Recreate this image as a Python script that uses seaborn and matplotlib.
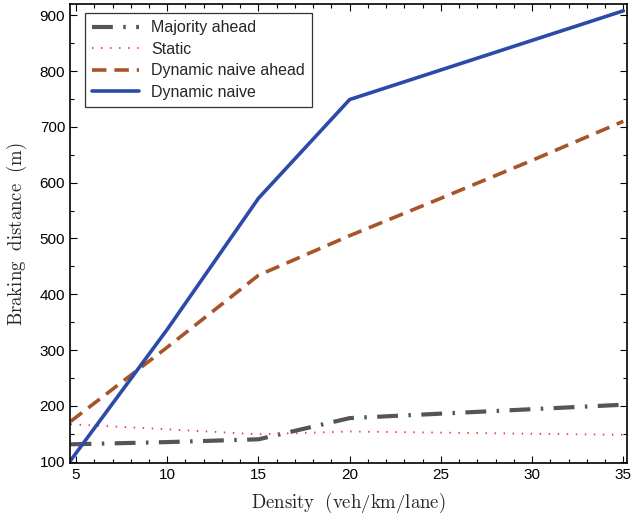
import matplotlib
matplotlib.use("Agg")
import matplotlib.pyplot as plt
import seaborn as sns
import pandas as pd
from matplotlib.ticker import MultipleLocator

# Data
density = [4.7, 10, 15, 20, 25, 30, 35]
majority_ahead = [131, 135, 140, 178, 186, 194, 202]
static = [167, 158, 149, 154, 152, 150, 148]
dyn_naive_ahead = [172, 305, 434, 505, 572, 640, 710]
dyn_naive = [102, 337, 572, 749, 802, 855, 908]

series_names = ["Majority ahead", "Static", "Dynamic naive ahead", "Dynamic naive"]
series_values = [majority_ahead, static, dyn_naive_ahead, dyn_naive]

sns.set_theme(style="white")
plt.rcParams['font.family'] = ['Liberation Sans', 'DejaVu Sans']
plt.rcParams['mathtext.fontset'] = 'cm'

fig = plt.figure(figsize=(6.33, 5.15), dpi=100)
ax = fig.add_axes([0.1106, 0.1004, 0.8799, 0.8916])

styles = {
    "Majority ahead": dict(color="#555555", lw=3.0, dashes=(5, 2.5, 0.6, 2.5)),
    "Static": dict(color="#ff3030", lw=1.3, dashes=(0.8, 4.2)),
    "Dynamic naive ahead": dict(color="#a8542a", lw=2.6, dashes=(4, 2.2)),
    "Dynamic naive": dict(color="#2c4aa8", lw=2.6, dashes=None),
}

for name, vals in zip(series_names, series_values):
    df = pd.DataFrame({"x": density, "y": vals})
    st = styles[name]
    line_ax = sns.lineplot(data=df, x="x", y="y", ax=ax, color=st["color"], lw=st["lw"], label=name)
    ln = line_ax.get_lines()[-1]
    if st["dashes"] is not None:
        ln.set_dashes(st["dashes"])

ax.set_xlim(4.67, 35.2)
ax.set_ylim(97, 920)
ax.xaxis.set_major_locator(MultipleLocator(5))
ax.xaxis.set_minor_locator(MultipleLocator(1))
ax.yaxis.set_major_locator(MultipleLocator(100))
ax.yaxis.set_minor_locator(MultipleLocator(50))
ax.tick_params(which="both", direction="in", top=True, right=True, bottom=True, left=True,
               colors="black", labelsize=11, width=0.8)
ax.tick_params(which="major", length=5)
ax.tick_params(which="minor", length=3)
for s in ax.spines.values():
    s.set_color("black")
    s.set_linewidth(1.2)

ax.set_xlabel(r"$\mathrm{Density\ \ (veh/km/lane)}$", fontsize=13.5, labelpad=6)
ax.set_ylabel(r"$\mathrm{Braking\ \ distance\ \ (m)}$", fontsize=13.5, labelpad=8)

leg = ax.legend(loc="upper left", bbox_to_anchor=(0.027, 0.98), borderaxespad=0, fontsize=11.5,
                frameon=True, fancybox=False, handlelength=2.9, borderpad=0.45, labelspacing=0.4,
                handletextpad=0.8)
leg.get_frame().set_edgecolor("black")
leg.get_frame().set_linewidth(0.9)

fig.savefig("out.png", dpi=100)
